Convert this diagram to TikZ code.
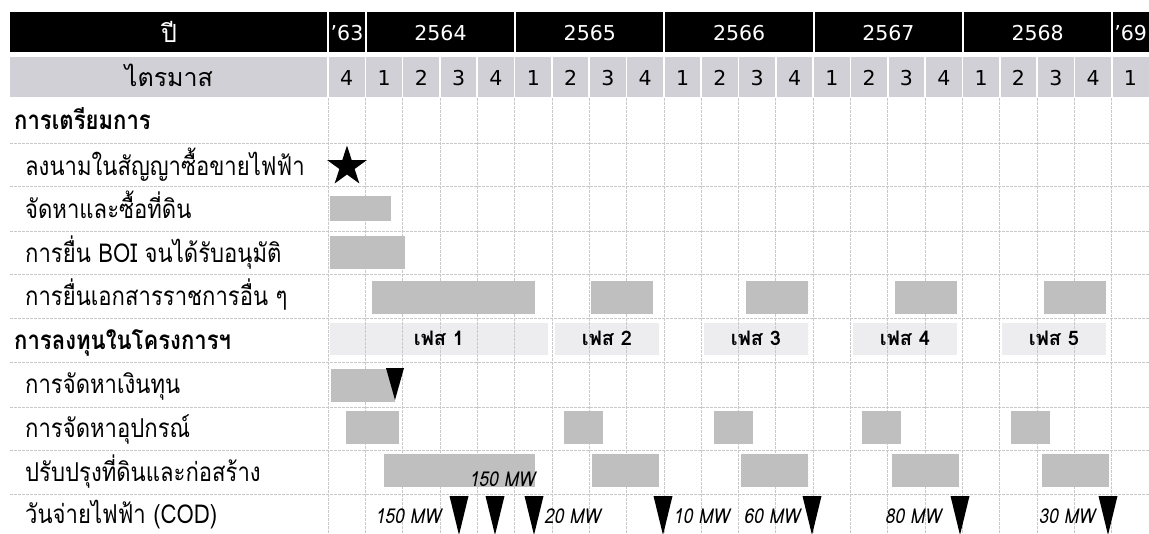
\documentclass[tikz,border=0pt]{standalone}
\usepackage{fontspec}
\setmainfont[Script=Thai, FakeStretch=0.85]{Loma}
\newfontfamily\thaiwide[Script=Thai]{Loma}
\newfontfamily\digitfont{DejaVu Sans}
\usetikzlibrary{shapes.geometric}
\definecolor{bar}{RGB}{191,191,191}
\definecolor{band}{RGB}{208,208,214}
\definecolor{phase}{RGB}{237,237,240}
\definecolor{rule}{RGB}{200,200,200}
\tikzset{
  head/.style={text=white, anchor=base, inner sep=0pt, font=\digitfont\fontsize{20.5}{24}\selectfont},
  quarter/.style={anchor=base, inner sep=0pt, font=\digitfont\fontsize{20.5}{24}\selectfont},
  thaihead/.style={anchor=base, inner sep=0pt, font=\thaiwide\fontsize{25}{29}\selectfont},
  task/.style={anchor=base west, inner sep=0pt, font=\fontsize{26}{30}\selectfont},
  group/.style={anchor=base west, inner sep=0pt, font=\fontsize{26}{30}\selectfont\bfseries},
  phasetxt/.style={anchor=base, inner sep=0pt, font=\thaiwide\fontsize{20}{24}\selectfont\bfseries},
  mw/.style={inner sep=0pt, font=\fontsize{20.5}{24}\selectfont\itshape},
  gridline/.style={rule, line width=0.7pt, dash pattern=on 2.5pt off 1.5pt},
  sep/.style={white, line width=1.6pt},
}
\begin{document}
\begin{tikzpicture}[x=1pt, y=-1pt]
    \useasboundingbox (0,0) rectangle (1149,533);
    % header rows
    \fill[black] (10,12) rectangle (1149,52);
    \fill[band]  (10,57) rectangle (1149,97);
    \foreach \x in {328,366,515,664,814,963,1112}
      \draw[sep] (\x,12) -- (\x,52);
    \foreach \i in {0,...,21}
      \draw[sep] ({328+37.32*\i},57) -- ({328+37.32*\i},97);
    \node[thaihead, text=white] (year) at (169,42) {ปี};
    \node[head] (y63) at (347,40) {’63};
    \node[head] (y64) at (440.5,40) {2564};
    \node[head] (y65) at (589.8,40) {2565};
    \node[head] (y66) at (739.1,40) {2566};
    \node[head] (y67) at (888.4,40) {2567};
    \node[head] (y68) at (1037.6,40) {2568};
    \node[head] (y69) at (1130.7,40) {’69};
    \node[thaihead] (qlabel) at (169,86) {ไตรมาส};
    \foreach \q [count=\i from 0] in {4,1,2,3,4,1,2,3,4,1,2,3,4,1,2,3,4,1,2,3,4,1}
      \node[quarter] (q\i) at ({346.7+37.32*\i},85) {\q};
    % phase bands sit under the grid
    \fill[phase] (330,323) rectangle (548,355);
    \foreach \x in {555,704,853,1002}
      \fill[phase] (\x,323) rectangle (\x+104,355);
    % grid
    \foreach \i in {0,...,21}
      \draw[gridline] ({328+37.32*\i},98) -- ({328+37.32*\i},533);
    \foreach \y in {143,186,231,274,318,362,407,450,494}
      \draw[gridline] (10,\y) -- (1149,\y);
    % row labels
    \node[group] (prep) at (14,129) {การเตรียมการ};
    \node[task] (sign) at (25,175) {ลงนามในสัญญาซื้อขายไฟฟ้า};
    \node[task] (land) at (25,218) {จัดหาและซื้อที่ดิน};
    \node[task] (boi) at (25,262) {การยื่น BOI จนได้รับอนุมัติ};
    \node[task] (docs) at (25,305) {การยื่นเอกสารราชการอื่น ๆ};
    \node[group] (invest) at (14,349) {การลงทุนในโครงการฯ};
    \node[task] (fund) at (25,393) {การจัดหาเงินทุน};
    \node[task] (equip) at (25,437) {การจัดหาอุปกรณ์};
    \node[task] (build) at (25,481) {ปรับปรุงที่ดินและก่อสร้าง};
    \node[task] (cod) at (25,523) {วันจ่ายไฟฟ้า (COD)};
    % phases
    \node[phasetxt] (ph1) at (439,345) {เฟส 1};
    \node[phasetxt] (ph2) at (607,345) {เฟส 2};
    \node[phasetxt] (ph3) at (756,345) {เฟส 3};
    \node[phasetxt] (ph4) at (905,345) {เฟส 4};
    \node[phasetxt] (ph5) at (1054,345) {เฟส 5};
    % bars
    \node[star, star points=5, star point ratio=2.618, fill=black, inner sep=0pt,
          minimum size=42pt] (ppa) at (347,166.5) {};
    \fill[bar] (330,196) rectangle (391,221);
    \fill[bar] (330,236) rectangle (405,269);
    \fill[bar] (372,281) rectangle (535,314);
    \foreach \x in {591,746,895,1044}
      \fill[bar] (\x,281) rectangle (\x+62,314);
    \fill[bar] (331,369) rectangle (395,402);
    \fill[black] (386,368) -- (404,368) -- (395,400) -- cycle;
    \fill[bar] (346,411) rectangle (399,444);
    \foreach \x in {564,714,862,1011}
      \fill[bar] (\x,411) rectangle (\x+39,444);
    \fill[bar] (384,454) rectangle (535,487);
    \foreach \x in {592,741,892,1042}
      \fill[bar] (\x,454) rectangle (\x+67,487);
    % COD
    \foreach \x in {459,495,534,663,812,960,1108}
      \fill[black] (\x-9.5,496) -- (\x+9.5,496) -- (\x,535) -- cycle;
    \node[mw, anchor=base] (mwa) at (502,486) {150 MW};
    \node[mw, anchor=base] (mwb) at (408,523) {150 MW};
    \node[mw, anchor=base west] (mwc) at (544,523) {20 MW};
    \node[mw, anchor=base west] (mwd) at (673,523) {10 MW};
    \node[mw, anchor=base east] (mwe) at (800,523) {60 MW};
    \node[mw, anchor=base] (mwf) at (913,523) {80 MW};
    \node[mw, anchor=base east] (mwg) at (1095,523) {30 MW};
\end{tikzpicture}
\end{document}
